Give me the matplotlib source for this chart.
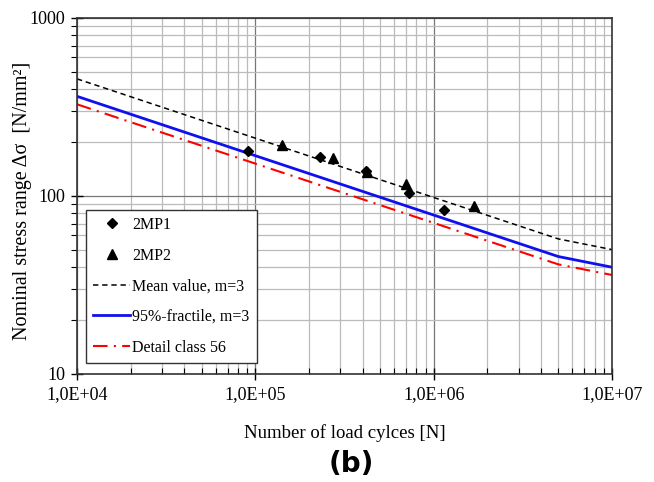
import matplotlib.pyplot as plt
from matplotlib.ticker import FixedLocator, FuncFormatter, LogLocator, NullFormatter

# test data
mp1_n = [9.1e4, 2.31e5, 4.19e5, 7.27e5, 1.15e6]
mp1_s = [179, 166, 138, 104, 83]
mp2_n = [1.41e5, 2.72e5, 4.25e5, 7.02e5, 1.68e6]
mp2_s = [193, 164, 136, 117, 88]

# S-N curves, knee at 5e6 cycles
curve_n = [1e4, 5e6, 1e7]
mean_s = [455, 57.4, 50.0]
frac_s = [363, 45.7, 39.8]
dc56_s = [327.5, 41.3, 36.0]

x_ticks = [1e4, 1e5, 1e6, 1e7]
x_labels = ["1,0E+04", "1,0E+05", "1,0E+06", "1,0E+07"]

plt.rcParams['font.family'] = ['Liberation Serif', 'DejaVu Serif']

fig = plt.figure(figsize=(6.54, 4.82), dpi=100)
ax = fig.add_axes([77 / 654, 1 - 374 / 482, (612 - 77) / 654, (374 - 18) / 482])

ax.set_xscale('log')
ax.set_yscale('log')
ax.set_xlim(1e4, 1e7)
ax.set_ylim(10, 1000)

ax.plot(mp1_n, mp1_s, 'kD', markersize=5.5, linestyle='none', label='2MP1', zorder=5)
ax.plot(mp2_n, mp2_s, 'k^', markersize=7, linestyle='none', label='2MP2', zorder=5)
ax.plot(curve_n, mean_s, color='black', lw=1.1, dashes=(3.5, 2.5), label='Mean value, m=3')
ax.plot(curve_n, frac_s, color='#1010ee', lw=2.0, label='95%-fractile, m=3')
ax.plot(curve_n, dc56_s, color='red', lw=1.5, dashes=(7, 3, 1, 3), label='Detail class 56')

# grid
ax.grid(True, which='major', color='#777777', lw=0.9)
ax.grid(True, which='minor', color='#bbbbbb', lw=0.9)
ax.set_axisbelow(True)

ax.xaxis.set_major_locator(FixedLocator(x_ticks))
ax.xaxis.set_major_formatter(FuncFormatter(lambda v, p: x_labels[x_ticks.index(v)] if v in x_ticks else ""))
ax.xaxis.set_minor_locator(LogLocator(base=10, subs=range(2, 10)))
ax.xaxis.set_minor_formatter(NullFormatter())
ax.yaxis.set_major_locator(FixedLocator([10, 100, 1000]))
ax.yaxis.set_major_formatter(FuncFormatter(lambda v, p: f"{int(v)}"))
ax.yaxis.set_minor_locator(LogLocator(base=10, subs=range(2, 10)))
ax.yaxis.set_minor_formatter(NullFormatter())

ax.tick_params(which='major', direction='inout', length=9, width=1, labelsize=13, pad=4)
ax.tick_params(axis='x', which='minor', direction='in', length=4, width=0.8)
ax.tick_params(axis='y', which='minor', direction='out', length=4, width=0.8)
for s in ax.spines.values():
    s.set_linewidth(1.2)
    s.set_color('#333333')

ax.set_xlabel('Number of load cylces [N]', fontsize=13.5)
ax.xaxis.set_label_coords(0.5, -0.14)
ax.set_ylabel('Nominal stress range Δσ  [N/mm²]', fontsize=14.5)
ax.yaxis.set_label_coords(-0.085, 0.485)

leg = ax.legend(loc='lower left', bbox_to_anchor=(0.017, 0.031), borderaxespad=0, fontsize=11.5,
                frameon=True, fancybox=False, edgecolor='#333333', framealpha=1,
                labelspacing=0.92, handlelength=2.3, handletextpad=0.15, borderpad=0.45)
leg.get_frame().set_linewidth(1.0)

fig.text(351 / 654, 1 - 464 / 482, '(b)', ha='center', va='center', fontsize=20, fontweight='bold',
         family='DejaVu Sans')

fig.savefig('out.png', dpi=100)
